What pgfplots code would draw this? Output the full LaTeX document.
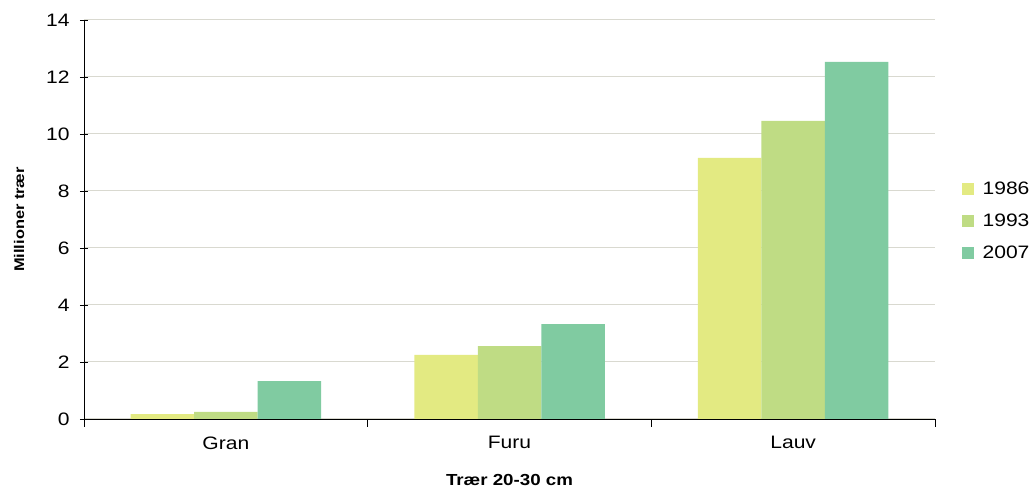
\documentclass[border=0pt]{standalone}
\usepackage{pgfplots}
\pgfplotsset{compat=1.18}
\usepackage{fontspec}
\setmainfont{Liberation Sans}[FakeStretch=1.17]
\definecolor{cA}{HTML}{E3EA82}
\definecolor{cB}{HTML}{BFDC84}
\definecolor{cC}{HTML}{80CBA1}
\definecolor{gridc}{HTML}{D9D9D0}
\begin{document}
\begin{tikzpicture}[x=1pt,y=1pt]
\useasboundingbox (0,0) rectangle (1034,489);
\begin{axis}[
  at={(84pt,70pt)}, anchor=south west,
  scale only axis, width=851pt, height=399pt,
  ymin=0, ymax=14, ytick={0,2,...,14},
  xmin=-0.5, xmax=2.5,
  xtick={0,1,2}, xticklabels={Gran,Furu,Lauv},
  minor xtick={-0.5,0.5,1.5,2.5},
  major x tick style={draw=none},
  minor tick length=8pt,
  x tick style={black, line width=0.8pt},
  tick align=outside,
  ytick style={black, line width=0.8pt},
  major tick length=8pt,
  axis x line=bottom, axis y line=left,
  axis line style={black, line width=0.9pt, -},
  ymajorgrids, grid style={gridc, line width=1pt},
  tick label style={font=\fontsize{18}{20}\selectfont},
  /pgf/number format/assume math mode=true,
  yticklabel style={xshift=-7pt},
  xticklabel style={yshift=-6pt},
  ylabel={\textbf{Millioner trær}},
  ylabel style={font=\fontsize{14}{16}\selectfont, at={(-0.066,0.5)}},
  xlabel={\textbf{Trær 20-30 cm}},
  xlabel style={font=\fontsize{16}{18}\selectfont, at={(0.5,-0.13)}},
  ybar=0pt, bar width=63.5pt,
  legend style={draw=none, at={(1.0275,0.496)}, anchor=west,
    font=\fontsize{18}{20}\selectfont, row sep=14pt},
  legend cell align=left,
  legend image code/.code={\fill[#1] (0pt,-6pt) rectangle (12pt,6pt); \path (19pt,0pt);},
]
\addplot[draw=none, fill=cA] coordinates {(0,0.17) (1,2.25) (2,9.16)};
\addplot[draw=none, fill=cB] coordinates {(0,0.25) (1,2.56) (2,10.46)};
\addplot[draw=none, fill=cC] coordinates {(0,1.33) (1,3.33) (2,12.53)};
\legend{1986,1993,2007}
\end{axis}
\end{tikzpicture}
\end{document}
